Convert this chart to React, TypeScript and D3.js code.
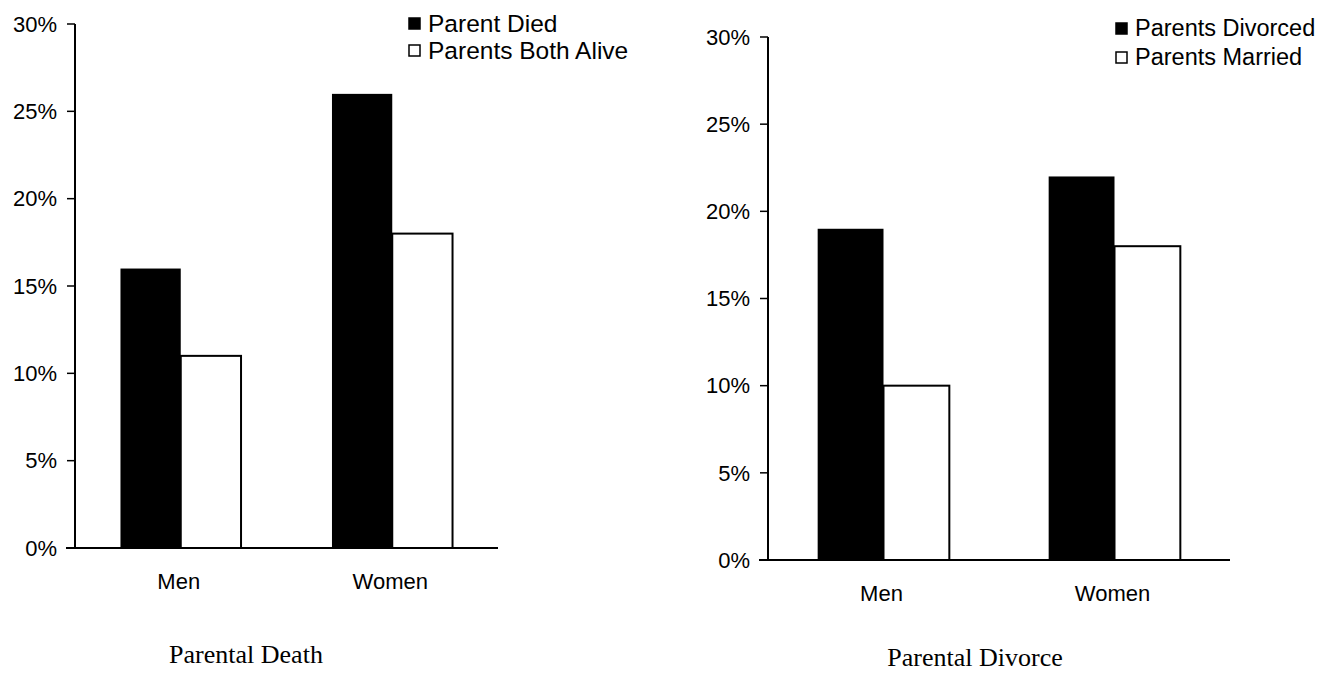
import React from "react";
import * as d3 from "d3";

const categories = ["Men", "Women"];
const yTicks = [0, 5, 10, 15, 20, 25, 30];

const deathSeries = ["Parent Died", "Parents Both Alive"];
const deathValues = [
  [16, 11], // Men
  [26, 18], // Women
];

const divorceSeries = ["Parents Divorced", "Parents Married"];
const divorceValues = [
  [19, 10], // Men
  [22, 18], // Women
];

const SANS = "'Liberation Sans', Arial, Helvetica, sans-serif";
const SERIF = "'Liberation Serif', 'Times New Roman', serif";
const fills = ["#000", "#fff"];

type PanelProps = {
  series: string[];
  values: number[][];
  title: string;
  x0: number;
  x1: number;
  yTop: number;
  yBottom: number;
  legendX: number;
  legendY: number[];
  legendSize: number;
  titleX: number;
  titleY: number;
};

function Panel(p: PanelProps) {
  const y = d3.scaleLinear().domain([0, 30]).range([p.yBottom, p.yTop]);
  const xb = d3
    .scaleBand<string>()
    .domain(categories)
    .range([p.x0, p.x1])
    .paddingInner(0.43)
    .paddingOuter(0.215);
  const xs = d3
    .scaleBand<string>()
    .domain(p.series)
    .range([0, xb.bandwidth()]);
  return (
    <g>
      {categories.map((c, ci) =>
        p.series.map((s, si) => {
          const v = p.values[ci][si];
          return (
            <rect
              key={c + s}
              x={(xb(c) as number) + (xs(s) as number)}
              y={y(v)}
              width={xs.bandwidth()}
              height={y(0) - y(v)}
              fill={fills[si]}
              stroke="#000"
              strokeWidth={si === 1 ? 2 : 0}
            />
          );
        })
      )}
      <line x1={p.x0} x2={p.x0} y1={y(30)} y2={y(0)} stroke="#000" strokeWidth={2} />
      <line x1={p.x0 - 9} x2={p.x1} y1={y(0)} y2={y(0)} stroke="#000" strokeWidth={2} />
      {yTicks.map((t) => (
        <g key={t}>
          <line x1={p.x0 - 8} x2={p.x0} y1={y(t)} y2={y(t)} stroke="#000" strokeWidth={1.5} />
          <text
            x={p.x0 - 18}
            y={y(t)}
            dy="0.35em"
            textAnchor="end"
            fontFamily={SANS}
            fontSize={22}
            fill="#000"
          >
            {t}%
          </text>
        </g>
      ))}
      {categories.map((c) => (
        <text
          key={c}
          x={(xb(c) as number) + xb.bandwidth() / 2 - 2}
          y={y(0) + 33}
          dy="0.35em"
          textAnchor="middle"
          fontFamily={SANS}
          fontSize={22}
          fill="#000"
        >
          {c}
        </text>
      ))}
      {p.series.map((s, si) => (
        <g key={s}>
          <rect
            x={p.legendX}
            y={p.legendY[si] - 5}
            width={11}
            height={11}
            fill={fills[si]}
            stroke="#000"
            strokeWidth={1.5}
          />
          <text
            x={p.legendX + 19}
            y={p.legendY[si]}
            dy="0.35em"
            fontFamily={SANS}
            fontSize={p.legendSize}
            fill="#000"
          >
            {s}
          </text>
        </g>
      ))}
      <text
        x={p.titleX}
        y={p.titleY}
        dy="0.35em"
        textAnchor="middle"
        fontFamily={SERIF}
        fontSize={26}
        fill="#000"
      >
        {p.title}
      </text>
    </g>
  );
}

export default function App() {
  return (
    <div style={{ position: "absolute", left: 0, top: 0 }}>
      <svg width={1324} height={674} style={{ display: "block", background: "#fff" }}>
        <Panel
          series={deathSeries}
          values={deathValues}
          title="Parental Death"
          x0={75}
          x1={498}
          yTop={24}
          yBottom={548}
          legendX={409}
          legendY={[23, 50]}
          legendSize={24.5}
          titleX={246}
          titleY={654}
        />
        <Panel
          series={divorceSeries}
          values={divorceValues}
          title="Parental Divorce"
          x0={768}
          x1={1230}
          yTop={37}
          yBottom={560}
          legendX={1116}
          legendY={[28, 57]}
          legendSize={23.5}
          titleX={975}
          titleY={657}
        />
      </svg>
    </div>
  );
}
